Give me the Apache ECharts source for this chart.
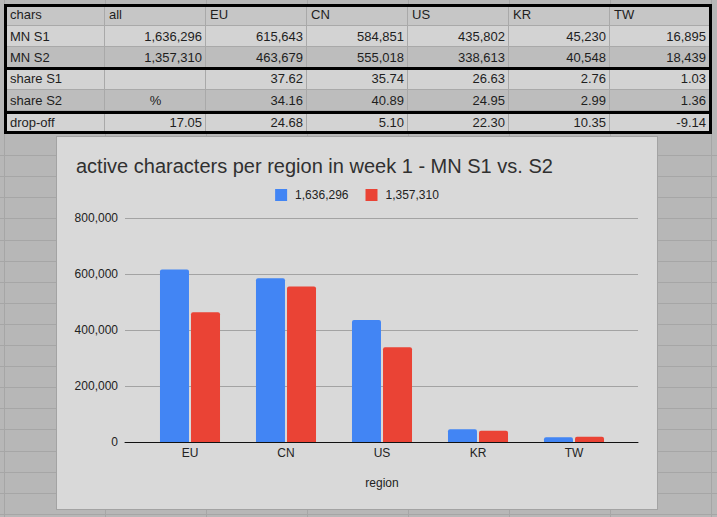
<!DOCTYPE html>
<html>
<head>
<meta charset="utf-8">
<script src="https://cdn.jsdelivr.net/npm/echarts@6/dist/echarts.min.js"></script>
<style>
  body { margin: 0; width: 717px; height: 517px; overflow: hidden; background: #b7b7b7; position: relative;
         font-family: "Liberation Sans", Arial, sans-serif; }
  .gl { position: absolute; background: #a6a6a6; }
  .cell { position: absolute; box-sizing: border-box; border-right: 1px solid #a9a9a9; border-bottom: 1px solid #a9a9a9;
          display: flex; align-items: center; padding: 0 3px 0 4px; font-size: 13px; color: #1e1e1e; white-space: nowrap; }
  .thick { position: absolute; background: #000; }
  #chart { position: absolute; left: 56px; top: 136px; width: 600px; height: 372px; border: 1px solid #a3a3a3; background: #d9d9d9; }
</style>
</head>
<body>
<div id="sheet"></div>
<div id="chart"></div>
<script>
// data
const regions = ['EU', 'CN', 'US', 'KR', 'TW'];
const totals = [1636296, 1357310];
const s1Values = [615643, 584851, 435802, 45230, 16895];
const s2Values = [463679, 555018, 338613, 40548, 18439];
const shareS1 = [37.62, 35.74, 26.63, 2.76, 1.03];
const shareS2 = [34.16, 40.89, 24.95, 2.99, 1.36];
const dropAll = 17.05;
const dropOff = [24.68, 5.10, 22.30, 10.35, -9.14];
const yTicks = [0, 200000, 400000, 600000, 800000];

function fmt(n) { return n.toLocaleString('en-US'); }

// spreadsheet background + table
const sheet = document.getElementById('sheet');
const colX = [4, 105, 206, 307, 408, 509, 610, 712];
const rowY = [4, 26, 47, 68, 90, 111, 134];
const rowBg = ['#c6c6c6', '#d3d3d3', '#bdbdbd', '#d3d3d3', '#bdbdbd', '#d3d3d3'];

function addDiv(cls, x, y, w, h, bg) {
  const d = document.createElement('div');
  d.className = cls;
  d.style.left = x + 'px'; d.style.top = y + 'px';
  d.style.width = w + 'px'; d.style.height = h + 'px';
  if (bg) d.style.background = bg;
  sheet.appendChild(d);
  return d;
}

colX.forEach((x, i) => addDiv('gl', i === colX.length - 1 ? x - 1 : x, 0, 1, 517));
for (let k = 1; k < 19; k++) addDiv('gl', 0, Math.round(134 + 21.1 * k), 717, 1);

const rows = [
  [['chars', 'l'], ['all', 'l']].concat(regions.map(r => [r, 'l'])),
  [['MN S1', 'l'], [fmt(totals[0]), 'r']].concat(s1Values.map(v => [fmt(v), 'r'])),
  [['MN S2', 'l'], [fmt(totals[1]), 'r']].concat(s2Values.map(v => [fmt(v), 'r'])),
  [['share S1', 'l'], ['', 'r']].concat(shareS1.map(v => [v.toFixed(2), 'r'])),
  [['share S2', 'l'], ['%', 'c']].concat(shareS2.map(v => [v.toFixed(2), 'r'])),
  [['drop-off', 'l'], [dropAll.toFixed(2), 'r']].concat(dropOff.map(v => [v.toFixed(2), 'r']))
];

rows.forEach((row, r) => {
  row.forEach((cell, c) => {
    const d = addDiv('cell', colX[c], rowY[r], colX[c + 1] - colX[c], rowY[r + 1] - rowY[r], rowBg[r]);
    d.style.justifyContent = cell[1] === 'l' ? 'flex-start' : (cell[1] === 'c' ? 'center' : 'flex-end');
    if (c === 0) d.style.paddingLeft = '6px';
    if (c === colX.length - 2) d.style.paddingRight = '5px';
    d.textContent = cell[0];
  });
});

// thick borders round the three blocks
addDiv('thick', 4, 4, 708, 3);
addDiv('thick', 4, 131, 708, 3);
addDiv('thick', 4, 4, 3, 130);
addDiv('thick', 709, 4, 3, 130);
addDiv('thick', 4, 67, 708, 3);
addDiv('thick', 4, 111, 708, 3);

// chart
const chart = echarts.init(document.getElementById('chart'), null, { renderer: 'svg' });
const txt = '#222';
const font = '"Liberation Sans", Arial, sans-serif';

chart.setOption({
  animation: false,
  textStyle: { fontFamily: font },
  title: {
    text: 'active characters per region in week 1 - MN S1 vs. S2',
    left: 19, top: 19, padding: 0,
    textStyle: { fontSize: 20, fontWeight: 'normal', color: '#303030', fontFamily: font }
  },
  legend: {
    top: 52, left: 'center', padding: 0,
    itemWidth: 12, itemHeight: 12, itemGap: 17, icon: 'rect',
    textStyle: { fontSize: 12, color: txt, padding: [0, 0, 0, 3] }
  },
  grid: [
    { left: 68, right: 19, top: 81, bottom: 67 },
    { left: 85, right: 35, top: 81, bottom: 67 }
  ],
  xAxis: [
    {
      gridIndex: 0, type: 'value', min: 0, max: 1,
      axisLine: { show: true, onZero: false, lineStyle: { color: '#111', width: 1 } },
      axisTick: { show: false }, axisLabel: { show: false }, splitLine: { show: false }
    },
    {
      gridIndex: 1, type: 'category', data: regions,
      axisLine: { show: false }, axisTick: { show: false },
      axisLabel: { margin: 5, fontSize: 12, color: txt },
      name: 'region', nameLocation: 'middle', nameGap: 35,
      nameTextStyle: { fontSize: 12, color: txt }
    }
  ],
  yAxis: [
    {
      gridIndex: 0, type: 'value',
      min: yTicks[0], max: yTicks[yTicks.length - 1], interval: yTicks[1] - yTicks[0],
      axisLine: { show: false }, axisTick: { show: false },
      axisLabel: { margin: 7, fontSize: 12, color: txt, formatter: v => fmt(v) },
      splitLine: { lineStyle: { color: '#a3a3a3', width: 1 } }
    },
    { gridIndex: 1, type: 'value', min: yTicks[0], max: yTicks[yTicks.length - 1], show: false }
  ],
  series: [
    {
      name: fmt(totals[0]), type: 'bar', xAxisIndex: 1, yAxisIndex: 1,
      data: s1Values, barWidth: 29, barGap: '7%',
      itemStyle: { color: '#4285f4', borderRadius: [2, 2, 0, 0] }
    },
    {
      name: fmt(totals[1]), type: 'bar', xAxisIndex: 1, yAxisIndex: 1,
      data: s2Values, barWidth: 29, barGap: '7%',
      itemStyle: { color: '#ea4335', borderRadius: [2, 2, 0, 0] }
    }
  ]
});
</script>
</body>
</html>
